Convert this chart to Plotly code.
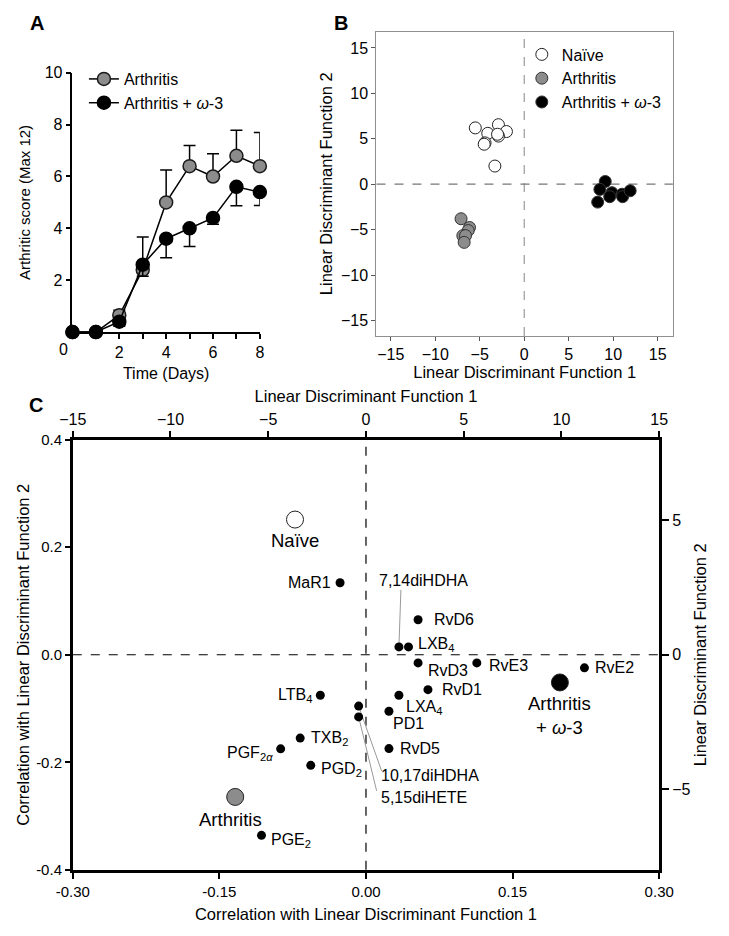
import plotly.graph_objects as go

FONT = "Arial, 'Liberation Sans', Helvetica, sans-serif"
GRAY = "#8c8c8c"
W, H = 729, 936

# ---------------- Panel A data ----------------
days = [0, 1, 2, 3, 4, 5, 6, 7, 8]
arthritis_score = [0, 0, 0.65, 2.4, 5.0, 6.4, 6.0, 6.8, 6.4]
arthritis_err_up = [0, 0, 0.19, 1.27, 1.25, 0.8, 0.88, 0.98, 1.3]
omega_score = [0, 0, 0.4, 2.6, 3.6, 4.0, 4.4, 5.6, 5.4]
omega_err_down = [0, 0, 0.18, 0.45, 0.73, 0.7, 0.24, 0.73, 0.52]
no_err = [0, 0, 0, 0, 0, 0, 0, 0, 0]
a_xticks = [2, 4, 6, 8]
a_xminor = [1, 3, 5, 7]
a_yticks = [2, 4, 6, 8, 10]

# ---------------- Panel B data ----------------
naive_ld1 = [-5.5, -4.1, -2.9, -2.0, -2.9, -3.0, -4.4, -4.5, -3.3]
naive_ld2 = [6.2, 5.6, 6.55, 5.8, 5.3, 5.5, 4.55, 4.4, 2.0]
arth_ld1 = [-7.1, -6.15, -6.3, -6.9, -6.6, -6.75]
arth_ld2 = [-3.8, -4.76, -5.1, -5.66, -5.66, -6.4]
omega_ld1 = [9.1, 8.5, 9.85, 9.6, 8.25, 11.0, 11.05, 11.9]
omega_ld2 = [0.3, -0.57, -0.93, -1.37, -1.97, -1.1, -1.37, -0.72]
b_ticks = [-15, -10, -5, 0, 5, 10, 15]

# ---------------- Panel C data ----------------
mediator_names = ["MaR1", "LTB<sub>4</sub>", "10,17diHDHA", "5,15diHETE", "TXB<sub>2</sub>",
                  "PGF<sub>2<i>α</i></sub>", "PGD<sub>2</sub>", "PGE<sub>2</sub>", "RvD6",
                  "7,14diHDHA", "LXB<sub>4</sub>", "RvD3", "RvE3", "RvE2", "RvD1",
                  "LXA<sub>4</sub>", "PD1", "RvD5"]
mediator_corr1 = [-0.0265, -0.0467, -0.0075, -0.0075, -0.0673, -0.0873, -0.0565, -0.1069, 0.0533,
                  0.0337, 0.0435, 0.0533, 0.1134, 0.2235, 0.0634, 0.0337, 0.0235, 0.0235]
mediator_corr2 = [0.134, -0.0754, -0.0955, -0.1156, -0.155, -0.175, -0.2057, -0.336, 0.0652,
                  0.0146, 0.0146, -0.0152, -0.0152, -0.0243, -0.065, -0.0754, -0.105, -0.1746]
group_names = ["Naïve", "Arthritis", "Arthritis<br>+ <i>ω</i>-3"]
group_ld1 = [-3.63, -6.69, 9.92]
group_ld2 = [5.03, -5.29, -1.03]
c_xticks = [-0.30, -0.15, 0.0, 0.15, 0.30]
c_xticktext = ["-0.30", "-0.15", "0.00", "0.15", "0.30"]
c_yticks = [-0.4, -0.2, 0.0, 0.2, 0.4]
c_yticktext = ["-0.4", "-0.2", "0.0", "0.2", "0.4"]
c_topticks = [-15, -10, -5, 0, 5, 10, 15]
c_rightticks = [-5, 0, 5]

# label placement (style): xanchor, xshift, yshift in pixels
mediator_label_style = {
    "MaR1": ("right", -7, 0),
    "LTB<sub>4</sub>": ("right", -6, 0),
    "10,17diHDHA": ("left", 20, -69),
    "5,15diHETE": ("left", 20, -81),
    "TXB<sub>2</sub>": ("left", 9, 0),
    "PGF<sub>2<i>α</i></sub>": ("right", -6, -5),
    "PGD<sub>2</sub>": ("left", 8, -4),
    "PGE<sub>2</sub>": ("left", 8, -5),
    "RvD6": ("left", 14, 0),
    "7,14diHDHA": ("left", -22, 66),
    "LXB<sub>4</sub>": ("left", 7, 2),
    "RvD3": ("left", 8, -8),
    "RvE3": ("left", 10, -3),
    "RvE2": ("left", 9, 0),
    "RvD1": ("left", 12, 0),
    "LXA<sub>4</sub>": ("left", 5, -12),
    "PD1": ("left", 2, -12),
    "RvD5": ("left", 9, 0),
}
leader_style = {  # pixel offsets of leader end from point
    "7,14diHDHA": (2, 57),
    "10,17diHDHA": (23, -65),
    "5,15diHETE": (18, -74),
}
group_label_shift = [(0, -21), (-5, -23), (0, -33)]


def dom_x(a, b):
    return [a / W, b / W]


def dom_y(top, bottom):
    return [1 - bottom / H, 1 - top / H]


fig = go.Figure()

# ---- Panel A ----
fig.add_trace(go.Scatter(
    x=days, y=arthritis_score, mode="lines+markers", name="Arthritis",
    marker=dict(size=13, color=GRAY, line=dict(color="#1a1a1a", width=1.5)),
    line=dict(color="black", width=1.5),
    error_y=dict(type="data", symmetric=False, array=arthritis_err_up, arrayminus=no_err,
                 color="black", thickness=1.5, width=6),
    xaxis="x", yaxis="y", legend="legend", cliponaxis=False))
fig.add_trace(go.Scatter(
    x=days, y=omega_score, mode="lines+markers", name="Arthritis + <i>ω</i>-3",
    marker=dict(size=13, color="black", line=dict(color="black", width=1.5)),
    line=dict(color="black", width=1.5),
    error_y=dict(type="data", symmetric=False, array=no_err, arrayminus=omega_err_down,
                 color="black", thickness=1.5, width=6),
    xaxis="x", yaxis="y", legend="legend", cliponaxis=False))

# ---- Panel B ----
fig.add_trace(go.Scatter(
    x=naive_ld1, y=naive_ld2, mode="markers", name="Naïve",
    marker=dict(size=12, color="white", line=dict(color="#222", width=1)),
    xaxis="x2", yaxis="y2", legend="legend2"))
fig.add_trace(go.Scatter(
    x=arth_ld1, y=arth_ld2, mode="markers", name="Arthritis",
    marker=dict(size=12, color=GRAY, line=dict(color="#333", width=1)),
    xaxis="x2", yaxis="y2", legend="legend2"))
fig.add_trace(go.Scatter(
    x=omega_ld1, y=omega_ld2, mode="markers", name="Arthritis + <i>ω</i>-3",
    marker=dict(size=12, color="black", line=dict(color="#333", width=1)),
    xaxis="x2", yaxis="y2", legend="legend2"))

# ---- Panel C ----
fig.add_trace(go.Scatter(
    x=mediator_corr1, y=mediator_corr2, mode="markers", showlegend=False,
    marker=dict(size=9, color="black"), xaxis="x3", yaxis="y3", cliponaxis=False))
fig.add_trace(go.Scatter(
    x=group_ld1, y=group_ld2, mode="markers", showlegend=False,
    marker=dict(size=17, color=["white", GRAY, "black"], line=dict(color="#222", width=1)),
    xaxis="x4", yaxis="y4", cliponaxis=False))

axis_common = dict(showgrid=False, zeroline=False, showline=True, ticks="outside",
                   tickfont=dict(family=FONT, size=16, color="black"))

fig.update_layout(
    width=W, height=H, margin=dict(l=0, r=0, t=0, b=0),
    paper_bgcolor="white", plot_bgcolor="white",
    font=dict(family=FONT, size=16, color="black"),
    xaxis=dict(axis_common, domain=dom_x(58, 254), anchor="y", range=[0, 8],
               tickvals=a_xticks, linecolor="black", linewidth=1.5, tickwidth=1.5, ticklen=5,
               tickcolor="black",
               minor=dict(tickvals=a_xminor, ticks="outside", ticklen=5, tickwidth=1.5, tickcolor="black"),
               title=dict(text="Time (Days)", font=dict(size=16), standoff=8)),
    yaxis=dict(axis_common, domain=dom_y(65, 329), anchor="x", range=[0, 10],
               tickvals=a_yticks, linecolor="black", linewidth=1.5, tickwidth=1.5, ticklen=5,
               tickcolor="black",
               title=dict(text="Arthritic score (Max 12)", font=dict(size=15), standoff=10)),
    xaxis2=dict(axis_common, domain=dom_x(376, 686), anchor="y2", range=[-16.6, 16.7],
                tickvals=b_ticks, mirror=True, linecolor="#8f8f8f", linewidth=1.3,
                tickcolor="#555", ticklen=4, tickwidth=1,
                title=dict(text="Linear Discriminant Function 1", font=dict(size=16.5), standoff=4)),
    yaxis2=dict(axis_common, domain=dom_y(23, 333), anchor="x2", range=[-16.7, 16.8],
                tickvals=b_ticks, mirror=True, linecolor="#8f8f8f", linewidth=1.3,
                tickcolor="#555", ticklen=4, tickwidth=1,
                title=dict(text="Linear Discriminant Function 2", font=dict(size=16.5), standoff=4)),
    xaxis3=dict(axis_common, domain=dom_x(58.3, 671.7), anchor="y3", range=[-0.30, 0.30],
                tickvals=c_xticks, ticktext=c_xticktext, linecolor="black", linewidth=2.5,
                tickwidth=2, ticklen=6, tickcolor="black", tickfont=dict(size=15),
                title=dict(text="Correlation with Linear Discriminant Function 1",
                           font=dict(size=16.5), standoff=10)),
    yaxis3=dict(axis_common, domain=dom_y(438.7, 876.7), anchor="x3", range=[-0.4, 0.4],
                tickvals=c_yticks, ticktext=c_yticktext, linecolor="black", linewidth=2.5,
                tickwidth=2, ticklen=5, tickcolor="black", tickfont=dict(size=15),
                title=dict(text="Correlation with Linear Discriminant Function 2",
                           font=dict(size=16.5), standoff=3)),
    xaxis4=dict(axis_common, overlaying="x3", anchor="y3", side="top", range=[-15, 15],
                tickvals=c_topticks, linecolor="black", linewidth=2.5, tickwidth=2, ticklen=6,
                tickcolor="black", tickfont=dict(size=16),
                title=dict(text="Linear Discriminant Function 1", font=dict(size=16.5), standoff=4)),
    yaxis4=dict(axis_common, overlaying="y3", anchor="x3", side="right", range=[-8, 8],
                tickvals=c_rightticks, linecolor="black", linewidth=2.5, tickwidth=2, ticklen=7,
                tickcolor="black", tickfont=dict(size=16),
                title=dict(text="Linear Discriminant Function 2", font=dict(size=16.5), standoff=5)),
    legend=dict(x=(90 - 20) / W, y=1 - (65 - 11) / H, xanchor="left", yanchor="top",
                bgcolor="rgba(0,0,0,0)", font=dict(size=16), tracegroupgap=0,
                itemsizing="trace"),
    legend2=dict(x=(548 - 20) / W, y=1 - (40 - 11) / H, xanchor="left", yanchor="top",
                 bgcolor="rgba(0,0,0,0)", font=dict(size=16), tracegroupgap=0),
)

shapes = []
# Panel B dashed zero lines
shapes.append(dict(type="line", xref="x2", yref="y2 domain", x0=0, x1=0, y0=0, y1=1,
                   line=dict(color="#999", width=1.2, dash="dash"), layer="below"))
shapes.append(dict(type="line", xref="x2 domain", yref="y2", x0=0, x1=1, y0=0, y1=0,
                   line=dict(color="#777", width=1.2, dash="dash"), layer="below"))
# Panel C dashed zero lines
shapes.append(dict(type="line", xref="x3", yref="y3 domain", x0=0, x1=0, y0=0, y1=1,
                   line=dict(color="black", width=1.2, dash="dash"), layer="below"))
shapes.append(dict(type="line", xref="x3 domain", yref="y3", x0=0, x1=1, y0=0, y1=0,
                   line=dict(color="black", width=1.2, dash="dash"), layer="below"))
# leader lines
for name, cx, cy in zip(mediator_names, mediator_corr1, mediator_corr2):
    if name in leader_style:
        dx, dy = leader_style[name]
        shapes.append(dict(type="line", xref="x3", yref="y3", xsizemode="pixel", ysizemode="pixel",
                           xanchor=cx, yanchor=cy, x0=0, y0=0, x1=dx, y1=dy,
                           line=dict(color="#999", width=1), layer="below"))
fig.update_layout(shapes=shapes)

ann = []
# panel letters
ann.append(dict(text="<b>A</b>", x=12 / W, y=1 - 14 / H, xref="paper", yref="paper",
                showarrow=False, xanchor="left", yanchor="middle", font=dict(size=20)))
ann.append(dict(text="<b>B</b>", x=329 / W, y=1 - 14 / H, xref="paper", yref="paper",
                showarrow=False, xanchor="left", yanchor="middle", font=dict(size=20)))
ann.append(dict(text="<b>C</b>", x=10 / W, y=1 - 403 / H, xref="paper", yref="paper",
                showarrow=False, xanchor="left", yanchor="middle", font=dict(size=20)))
# Panel A "0" tick label (offset like the original)
ann.append(dict(text="0", x=0, y=0, xref="x", yref="y", showarrow=False, xanchor="center",
                yanchor="top", xshift=-9, yshift=-7, font=dict(size=16)))
# mediator labels
for name, cx, cy in zip(mediator_names, mediator_corr1, mediator_corr2):
    xa, xs, ys = mediator_label_style[name]
    ann.append(dict(text=name, x=cx, y=cy, xref="x3", yref="y3", showarrow=False,
                    xanchor=xa, yanchor="middle", xshift=xs, yshift=ys, font=dict(size=16)))
# group labels
for name, gx, gy, (xs, ys) in zip(group_names, group_ld1, group_ld2, group_label_shift):
    ann.append(dict(text=name, x=gx, y=gy, xref="x4", yref="y4", showarrow=False,
                    xanchor="center", yanchor="middle", xshift=xs, yshift=ys,
                    font=dict(size=18.5)))
fig.update_layout(annotations=ann)

fig.write_html("out.html", config={"displayModeBar": False},
               post_script="document.body.style.margin='0';")
